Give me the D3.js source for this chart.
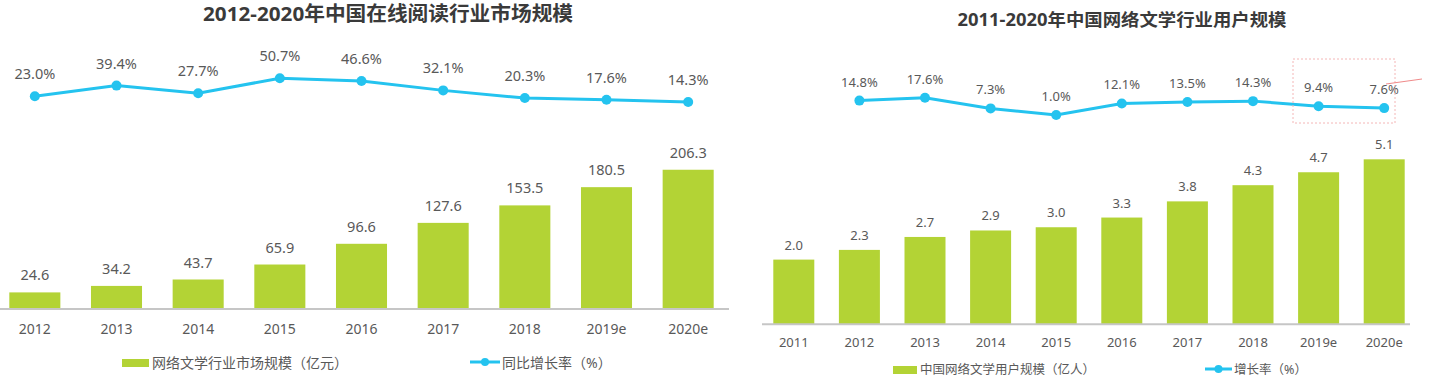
<!DOCTYPE html>
<html>
<head>
<meta charset="utf-8">
<script src="https://cdn.jsdelivr.net/npm/d3@7"></script>
<style>
  body { margin: 0; background: #fff; }
  svg { display: block; font-family: "Noto Sans", "Noto Sans CJK SC", sans-serif; }
</style>
</head>
<body>
<div id="chart"></div>
<script>
// Left chart data: online reading market size (亿元) and YoY growth
const leftYears = ["2012", "2013", "2014", "2015", "2016", "2017", "2018", "2019e", "2020e"];
const leftMarket = [24.6, 34.2, 43.7, 65.9, 96.6, 127.6, 153.5, 180.5, 206.3];
const leftGrowth = [23.0, 39.4, 27.7, 50.7, 46.6, 32.1, 20.3, 17.6, 14.3];

// Right chart data: online literature users (亿人) and growth
const rightYears = ["2011", "2012", "2013", "2014", "2015", "2016", "2017", "2018", "2019e", "2020e"];
const rightUsers = [2.0, 2.3, 2.7, 2.9, 3.0, 3.3, 3.8, 4.3, 4.7, 5.1];
const rightGrowthYears = ["2012", "2013", "2014", "2015", "2016", "2017", "2018", "2019e", "2020e"];
const rightGrowth = [14.8, 17.6, 7.3, 1.0, 12.1, 13.5, 14.3, 9.4, 7.6];

const barColor = "#b3d335";
const lineColor = "#24c3ef";
const textColor = "#595959";

const svg = d3.select("#chart")
  .append("svg")
  .attr("width", 1437)
  .attr("height", 385);

// Draw one combo chart (bars + growth line)
function drawChart(opts) {
  const g = svg.append("g");

  const x = d3.scaleBand()
    .domain(opts.years)
    .range(opts.xRange)
    .paddingInner(0.375)
    .paddingOuter(0.1875);

  const yBar = d3.scaleLinear().domain(opts.barDomain).range(opts.barRange);
  const yLine = d3.scaleLinear().domain(opts.lineDomain).range(opts.lineRange);

  // Title, stretched to the width seen in the picture
  g.append("text")
    .attr("x", opts.titleX)
    .attr("y", opts.titleY)
    .attr("text-anchor", "middle")
    .attr("font-size", opts.titleSize)
    .attr("font-weight", "bold")
    .attr("fill", "#3a3a3a")
    .attr("textLength", opts.titleWidth)
    .attr("lengthAdjust", "spacingAndGlyphs")
    .text(opts.title);

  // Bars
  g.selectAll(".bar")
    .data(opts.bars)
    .enter()
    .append("rect")
    .attr("x", (d, i) => x(opts.years[i]))
    .attr("y", d => yBar(d))
    .attr("width", x.bandwidth())
    .attr("height", d => yBar(0) - yBar(d))
    .attr("fill", barColor);

  // Bar value labels
  g.selectAll(".barlabel")
    .data(opts.bars)
    .enter()
    .append("text")
    .attr("x", (d, i) => x(opts.years[i]) + x.bandwidth() / 2)
    .attr("y", d => yBar(d) - opts.barLabelGap)
    .attr("text-anchor", "middle")
    .attr("font-size", opts.labelSize)
    .attr("fill", textColor)
    .text(d => d.toFixed(1));

  // X axis
  const axis = g.append("g")
    .attr("transform", `translate(0,${yBar(0)})`)
    .call(d3.axisBottom(x).tickSize(0).tickPadding(opts.tickPad));
  axis.select(".domain")
    .attr("d", `M${opts.axisExtent[0]},0H${opts.axisExtent[1]}`)
    .attr("stroke", "#c6c6c6")
    .attr("stroke-width", 2);
  axis.selectAll("text")
    .attr("font-size", opts.tickSize)
    .attr("fill", textColor)
    .attr("font-family", "Noto Sans, sans-serif");

  // Growth line
  const cx = (d, i) => x(opts.lineYears[i]) + x.bandwidth() / 2;
  const line = d3.line()
    .x((d, i) => cx(d, i))
    .y(d => yLine(d));

  g.append("path")
    .datum(opts.line)
    .attr("fill", "none")
    .attr("stroke", lineColor)
    .attr("stroke-width", 3)
    .attr("d", line);

  g.selectAll(".dot")
    .data(opts.line)
    .enter()
    .append("circle")
    .attr("cx", cx)
    .attr("cy", d => yLine(d))
    .attr("r", 5)
    .attr("fill", lineColor);

  g.selectAll(".pct")
    .data(opts.line)
    .enter()
    .append("text")
    .attr("x", cx)
    .attr("y", d => yLine(d) - opts.pctGap)
    .attr("text-anchor", "middle")
    .attr("font-size", opts.pctSize)
    .attr("fill", textColor)
    .text(d => d.toFixed(1) + "%");

  // Legend
  const lg = g.append("g");
  lg.append("rect")
    .attr("x", opts.legend.rectX)
    .attr("y", opts.legend.y - 4)
    .attr("width", opts.legend.rectW)
    .attr("height", 8)
    .attr("fill", barColor);
  lg.append("text")
    .attr("x", opts.legend.rectX + opts.legend.rectW + 3)
    .attr("y", opts.legend.y)
    .attr("dy", "0.35em")
    .attr("font-size", opts.legend.size)
    .attr("fill", textColor)
    .text(opts.legend.barText);
  lg.append("line")
    .attr("x1", opts.legend.lineX)
    .attr("x2", opts.legend.lineX + opts.legend.lineW)
    .attr("y1", opts.legend.y - 1)
    .attr("y2", opts.legend.y - 1)
    .attr("stroke", lineColor)
    .attr("stroke-width", 3);
  lg.append("circle")
    .attr("cx", opts.legend.lineX + opts.legend.lineW / 2)
    .attr("cy", opts.legend.y - 1)
    .attr("r", 4)
    .attr("fill", lineColor);
  lg.append("text")
    .attr("x", opts.legend.lineX + opts.legend.lineW + 2)
    .attr("y", opts.legend.y)
    .attr("dy", "0.35em")
    .attr("font-size", opts.legend.size)
    .attr("fill", textColor)
    .text(opts.legend.lineText);

  return g;
}

drawChart({
  title: "2012-2020年中国在线阅读行业市场规模",
  titleX: 388, titleY: 21, titleSize: 20, titleWidth: 370,
  years: leftYears, bars: leftMarket,
  lineYears: leftYears, line: leftGrowth,
  xRange: [-6, 729],
  barDomain: [0, 200], barRange: [309, 174],
  lineDomain: [0, 60], lineRange: [111.3, 72.2],
  barLabelGap: 12, labelSize: 14.5,
  pctGap: 17, pctSize: 14.5,
  tickSize: 14, tickPad: 15,
  axisExtent: [0, 729],
  legend: { rectX: 122, rectW: 27, y: 363, size: 14,
    barText: "网络文学行业市场规模（亿元）", lineX: 470, lineW: 30, lineText: "同比增长率（%）" }
});

const right = drawChart({
  title: "2011-2020年中国网络文学行业用户规模",
  titleX: 1122, titleY: 26, titleSize: 17, titleWidth: 329,
  years: rightYears, bars: rightUsers,
  lineYears: rightGrowthYears, line: rightGrowth,
  xRange: [761, 1417],
  barDomain: [0, 5], barRange: [324.3, 162.55],
  lineDomain: [0, 20], lineRange: [116, 95.2],
  barLabelGap: 10, labelSize: 13,
  pctGap: 14, pctSize: 13,
  tickSize: 13, tickPad: 13,
  axisExtent: [762, 1410],
  legend: { rectX: 893, rectW: 24, y: 370, size: 12.5,
    barText: "中国网络文学用户规模（亿人）", lineX: 1205, lineW: 27, lineText: "增长率（%）" }
});

// Pink dashed annotation box seen over the last two growth points
right.append("rect")
  .attr("x", 1293).attr("y", 59)
  .attr("width", 102).attr("height", 64)
  .attr("fill", "none")
  .attr("stroke", "#f4b6b6")
  .attr("stroke-width", 1)
  .attr("stroke-dasharray", "2,2");
right.append("line")
  .attr("x1", 1386).attr("y1", 84)
  .attr("x2", 1422).attr("y2", 79)
  .attr("stroke", "#f08a8a")
  .attr("stroke-width", 1);
</script>
</body>
</html>
